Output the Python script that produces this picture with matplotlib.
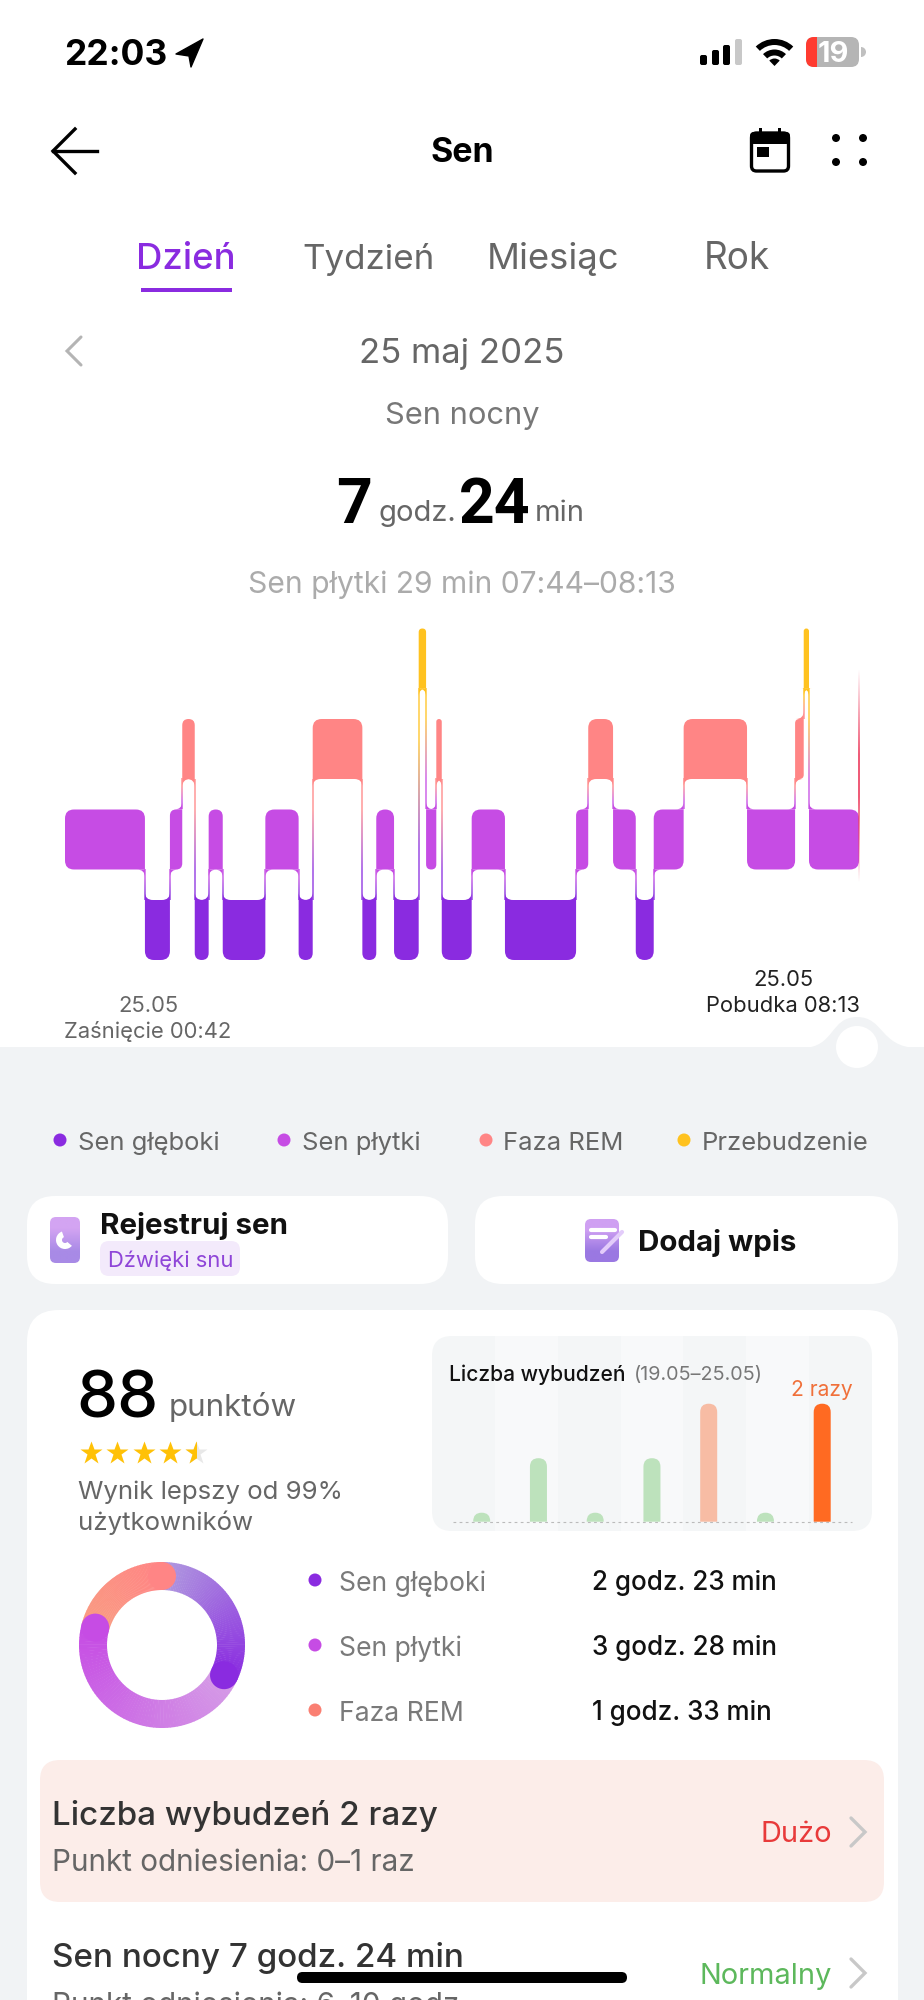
"""
Sleep screen (day view) rebuilt as one matplotlib figure.
UI chrome goes on a full-figure axes in pixels, the hypnogram and the
small wake-ups chart get their own axes with real data units.
"""

import matplotlib
matplotlib.use("Agg")

import matplotlib.pyplot as plt
import numpy as np
from matplotlib.colors import to_rgb
from matplotlib.patches import Circle, FancyBboxPatch, PathPatch, Polygon, Rectangle, Wedge
from matplotlib.path import Path

W, H = 924, 2000
plt.rcParams["font.family"] = ["Inter", "Noto Sans", "DejaVu Sans"]

# Colours
DEEP = "#8A2BE0"
LIGHT = "#C64CE4"
REM = "#FF8585"
AWAKE = "#FFC21F"
BG = "#F1F3F5"
STAGE_COLORS = [DEEP, LIGHT, REM, AWAKE]

# Hypnogram: stage level per block (0 deep, 1 light, 2 REM, 3 awake) and
# block end in minutes after falling asleep at 00:42
SEG_LEVEL = [1, 0, 1, 2, 0, 1, 0, 1, 0, 2, 0, 1, 0, 3, 1, 2, 0, 1, 0, 1, 2, 1, 0, 1, 2, 1, 2, 3, 1]
SEG_END = [45.4, 59.6, 66.6, 73.7, 81.6, 89.6, 113.8, 132.7, 140.7, 168.9, 176.8, 186.9,
           200.9, 205.1, 210.9, 214.0, 231.0, 249.9, 290.3, 297.2, 311.3, 324.2, 334.4,
           351.4, 387.4, 414.7, 419.6, 422.6, 451.0]

LEGEND_LABELS = ["Sen głęboki", "Sen płytki", "Faza REM", "Przebudzenie"]
TAB_LABELS = ["Dzień", "Tydzień", "Miesiąc", "Rok"]

# Wake-ups per day, 19.05-25.05
WAKE_COUNTS = [0, 1, 0, 1, 2, 0, 2]
WAKE_COLORS = ["#BDE2BC", "#BDE2BC", "#BDE2BC", "#BDE2BC", "#F7BCA4", "#BDE2BC", "#FF6A22"]

# Sleep totals in minutes, donut order
TOTAL_LABELS = ["Sen głęboki", "Sen płytki", "Faza REM"]
TOTAL_MINUTES = [143, 208, 93]
TOTAL_TEXT = ["2 godz. 23 min", "3 godz. 28 min", "1 godz. 33 min"]
DONUT_STOPS = [("#B09ADF", DEEP), ("#D59CE6", LIGHT), ("#F99C82", REM)]
DOT_COLORS = [DEEP, LIGHT, "#FA7F72"]

fig = plt.figure(figsize=(W / 100, H / 100), dpi=100, facecolor="white")
ui = fig.add_axes([0, 0, 1, 1])
ui.set_xlim(0, W)
ui.set_ylim(H, 0)
ui.axis("off")


def label(x, y, s, size, color="#333333", weight="normal", ha="left", zorder=5):
    """Text with y at the middle of the caps, size in pixels."""
    ui.text(x, y + 0.36 * size, s, fontsize=size * 0.72, color=color, fontweight=weight,
            ha=ha, va="baseline", zorder=zorder)


def box(x0, y0, x1, y1, r, color, zorder=2):
    p = FancyBboxPatch((x0, y0), x1 - x0, y1 - y0, boxstyle=f"round,pad=0,rounding_size={r}",
                       facecolor=color, edgecolor="none", zorder=zorder)
    ui.add_patch(p)
    return p


def gradient_box(x0, y0, x1, y1, r, top, bottom, zorder=3):
    p = box(x0, y0, x1, y1, r, "none", zorder)
    grad = np.array([[to_rgb(top)], [to_rgb(bottom)]])
    im = ui.imshow(grad, extent=(x0, x1, y1, y0), aspect="auto", interpolation="bilinear", zorder=zorder)
    im.set_clip_path(p)


def chevron(x, y, w, h, color, lw=2.2, left=False):
    d = -w if left else w
    ui.plot([x, x + d, x], [y - h / 2, y, y + h / 2], color=color, lw=lw, zorder=5,
            solid_capstyle="round", solid_joinstyle="miter")


def rounded_path(x0, x1, y0, y1, rx, ry, corners):
    """corners = (bottom-left, bottom-right, top-right, top-left) True when rounded."""
    bl, br, tr, tl = corners
    v = [(x0 + (rx if bl else 0), y0)]
    c = [Path.MOVETO]
    if br:
        v += [(x1 - rx, y0), (x1, y0), (x1, y0 + ry)]
        c += [Path.LINETO, Path.CURVE3, Path.CURVE3]
    else:
        v += [(x1, y0)]
        c += [Path.LINETO]
    if tr:
        v += [(x1, y1 - ry), (x1, y1), (x1 - rx, y1)]
        c += [Path.LINETO, Path.CURVE3, Path.CURVE3]
    else:
        v += [(x1, y1)]
        c += [Path.LINETO]
    if tl:
        v += [(x0 + rx, y1), (x0, y1), (x0, y1 - ry)]
        c += [Path.LINETO, Path.CURVE3, Path.CURVE3]
    else:
        v += [(x0, y1)]
        c += [Path.LINETO]
    if bl:
        v += [(x0, y0 + ry), (x0, y0), (x0 + rx, y0)]
        c += [Path.LINETO, Path.CURVE3, Path.CURVE3]
    else:
        v += [(x0, y0)]
        c += [Path.LINETO]
    return Path(v, c)


# ---------------------------------------------------------------------------
# Page background
# ---------------------------------------------------------------------------
ui.add_patch(Rectangle((0, 1047), W, H - 1047, facecolor=BG, edgecolor="none", zorder=0))
ui.add_patch(PathPatch(Path([(803, 1048), (835, 1047), (830, 1017), (857, 1017),
                             (884, 1017), (880, 1047), (917, 1048)],
                            [Path.MOVETO] + [Path.CURVE4] * 6),
                       facecolor=BG, edgecolor="none", zorder=0))
ui.add_patch(Circle((857, 1047), 21, facecolor="white", edgecolor="none", zorder=1))

# ---------------------------------------------------------------------------
# Status bar and header
# ---------------------------------------------------------------------------
label(64, 52, "22:03", 35.5, "black", "bold")
ui.add_patch(Polygon([(203, 39), (176, 54), (189, 56), (191, 67)], closed=True, facecolor="black", edgecolor="black", lw=1, joinstyle="round"))
for x, top, col in zip([700, 712, 723, 735], [55, 50, 45, 39], ["black", "black", "black", "#C8C8C8"]):
    box(x, top, x + 7, 65, 2, col)
for r_out, r_w in [(27, 6), (16.5, 6)]:
    ui.add_patch(Wedge((774.5, 66), r_out, 226, 314, width=r_w, facecolor="black", edgecolor="none"))
ui.add_patch(Wedge((774.5, 66), 7.5, 226, 314, facecolor="black", edgecolor="none"))
batt = box(806, 37, 859, 67, 8, "#B5B5B5")
red = Rectangle((806, 37), 11, 30, facecolor="#FF3B30", edgecolor="none", zorder=3)
ui.add_patch(red)
red.set_clip_path(batt)
ui.add_patch(Wedge((861, 52), 5, -90, 90, facecolor="#C0C0C0", edgecolor="none"))
label(833, 52, "19", 29, "white", "bold", "center")

ui.plot([97, 53], [151, 151], color="black", lw=2.4, zorder=5)
ui.plot([75, 53, 75], [129, 151, 173], color="black", lw=2.4, zorder=5, solid_joinstyle="miter")
label(462, 150, "Sen", 34, "black", "bold", "center")

# calendar and menu dots
box(751.5, 133, 788.5, 171, 5, "white", 3).set(edgecolor="black", linewidth=2.4)
box(750, 132, 790, 144, 4, "black", 4)
ui.add_patch(Rectangle((759, 128), 3, 6, facecolor="black", zorder=4))
ui.add_patch(Rectangle((778, 128), 3, 6, facecolor="black", zorder=4))
ui.add_patch(Rectangle((757, 147), 12, 10, facecolor="black", zorder=4))
for cx in [836, 863]:
    for cy in [138, 162]:
        ui.add_patch(Circle((cx, cy), 4, facecolor="black", edgecolor="none"))

# tabs
for name, cx, col, size in zip(TAB_LABELS, [186, 369, 553, 737], [DEEP, "#666666", "#666666", "#666666"], [36.5, 35, 36.5, 37]):
    label(cx, 256, name, size, col, "medium" if col == DEEP else "normal", "center")
ui.add_patch(Rectangle((141, 288), 91, 4, facecolor=DEEP, edgecolor="none"))

chevron(81, 351, 14, 28, "#B4B4B4", left=True)
label(462, 351, "25 maj 2025", 34.7, "#666666", ha="center")
label(462, 413, "Sen nocny", 30.8, "#777777", ha="center")

# "7 godz. 24 min"
big = ["Liberation Sans Narrow", "Roboto", "DejaVu Sans"]
ui.text(354, 523, "7", fontsize=45, fontweight="bold", family=big, color="black", ha="center", va="baseline")
ui.text(378, 521, "godz.", fontsize=21, color="#666666", ha="left", va="baseline")
ui.text(495, 523, "24", fontsize=45, fontweight="bold", family=big, color="black", ha="center", va="baseline")
ui.text(535, 521, "min", fontsize=21, color="#666666", ha="left", va="baseline")
label(462, 582, "Sen płytki 29 min 07:44–08:13", 30, "#ABABAB", ha="center")

# ---------------------------------------------------------------------------
# Hypnogram
# ---------------------------------------------------------------------------
PX_X0, PX_X1 = 65, 859
PX_TOP, PX_BOTTOM = 620, 970
X_SCALE = (PX_X1 - PX_X0) / SEG_END[-1]     # px per minute
Y_SCALE = 90.5                              # px per level
BAND = 30 / Y_SCALE                         # half band height in levels

chart = fig.add_axes([PX_X0 / W, 1 - PX_BOTTOM / H, (PX_X1 - PX_X0) / W, (PX_BOTTOM - PX_TOP) / H])
chart.patch.set_alpha(0)
chart.axis("off")
xlim = (0, SEG_END[-1])
ylim = ((930 - PX_BOTTOM) / Y_SCALE, (930 - PX_TOP) / Y_SCALE)

FILLET = 8  # px
starts = [0] + SEG_END[:-1]
for i, (lev, x0, x1) in enumerate(zip(SEG_LEVEL, starts, SEG_END)):
    prev_lev = SEG_LEVEL[i - 1] if i > 0 else None
    next_lev = SEG_LEVEL[i + 1] if i + 1 < len(SEG_LEVEL) else None
    width_px = (x1 - x0) * X_SCALE
    r = min(9, width_px / 2)
    # the corner facing a junction stays square, the other one is rounded
    bl = prev_lev is None or prev_lev > lev
    tl = prev_lev is None or prev_lev < lev
    br = next_lev is None or next_lev > lev
    tr = next_lev is None or next_lev < lev
    path = rounded_path(x0, x1, lev - BAND, lev + BAND, r / X_SCALE, r / Y_SCALE, (bl, br, tr, tl))
    chart.add_patch(PathPatch(path, facecolor=STAGE_COLORS[lev], edgecolor="none", zorder=3, clip_on=False))

    if next_lev is None:
        continue
    # junction to the next block: thin gradient line plus two small fillets
    hi, lo = max(lev, next_lev), min(lev, next_lev)
    y_top, y_bot = hi - BAND, lo + BAND
    c_top = np.array(to_rgb(STAGE_COLORS[hi]))
    c_bot = np.array(to_rgb(STAGE_COLORS[lo]))
    grad = np.array([[0.65 * c_top + 0.35], [0.65 * c_bot + 0.35]])
    half = 1.0 / X_SCALE
    chart.imshow(grad, extent=(x1 - half, x1 + half, y_bot, y_top), aspect="auto",
                 interpolation="bilinear", zorder=2, origin="upper")
    rx, ry = FILLET / X_SCALE, FILLET / Y_SCALE
    side_hi = -1 if lev == hi else 1
    side_lo = -1 if lev == lo else 1
    for yc, side, col, dy in [(y_top, side_hi, STAGE_COLORS[hi], -ry), (y_bot, side_lo, STAGE_COLORS[lo], ry)]:
        fillet = Path([(x1, yc), (x1 + side * rx, yc), (x1, yc), (x1, yc + dy), (x1, yc)],
                      [Path.MOVETO, Path.LINETO, Path.CURVE3, Path.CURVE3, Path.CLOSEPOLY])
        chart.add_patch(PathPatch(fillet, facecolor=col, edgecolor="none", zorder=3, clip_on=False))

# fading red cursor at the wake-up time
cursor = np.array([[[0.93, 0.25, 0.38, a]] for a in (0.0, 0.45, 0.85, 0.85, 0.45, 0.0)])
chart.imshow(cursor, extent=(SEG_END[-1] - 1.0 / X_SCALE, SEG_END[-1] + 0.5 / X_SCALE, (930 - 903) / Y_SCALE, (930 - 648) / Y_SCALE),
             aspect="auto", interpolation="bilinear", zorder=4, origin="lower", clip_on=False)
chart.set_xlim(xlim)
chart.set_ylim(ylim)

label(148, 1004, "25.05", 22, "#666666", ha="center")
label(148, 1030, "Zaśnięcie 00:42", 22, "#666666", ha="center")
label(783, 978, "25.05", 22, "#222222", ha="center")
label(783, 1004, "Pobudka 08:13", 22, "#222222", ha="center")

# legend under the chart
for name, col, dx, tx in zip(LEGEND_LABELS, STAGE_COLORS, [60, 284, 486, 684], [78, 302, 503, 702]):
    ui.add_patch(Circle((dx, 1140), 6.5, facecolor=col, edgecolor="none", zorder=3))
    label(tx, 1141, name, 25.6, "#666666")

# ---------------------------------------------------------------------------
# Action buttons
# ---------------------------------------------------------------------------
box(27, 1196, 448, 1284, 28, "white")
box(475, 1196, 898, 1284, 28, "white")

gradient_box(50, 1217, 80, 1263, 6, "#D3A4F2", "#A88AE6")
ui.add_patch(Wedge((65, 1240), 9, 40, 250, width=6, facecolor="white", edgecolor="none", zorder=4))
label(100, 1223, "Rejestruj sen", 29.6, "#111111", "bold")
box(100, 1241, 240, 1276, 9, "#F3EAFB")
label(108, 1259, "Dźwięki snu", 22, "#8F45D8")

gradient_box(585, 1219, 619, 1262, 6, "#CFA0F2", "#9A78E2")
ui.plot([591, 615], [1230, 1230], color="white", lw=3, solid_capstyle="round", zorder=5)
ui.plot([591, 606], [1237, 1237], color="white", lw=3, solid_capstyle="round", zorder=5)
ui.plot([622, 602], [1232, 1252], color="#E3CCFA", lw=3, solid_capstyle="round", zorder=5)
label(638, 1240, "Dodaj wpis", 29.5, "#111111", "bold")

# ---------------------------------------------------------------------------
# Score card
# ---------------------------------------------------------------------------
box(27, 1310, 898, 2100, 32, "white", 1)

ui.text(76, 1417, "88", fontsize=47, color="black", fontweight="medium", ha="left", va="baseline", zorder=5)
ui.text(169, 1416, "punktów", fontsize=22.6, color="#666666", ha="left", va="baseline", zorder=5)

star_x = [91, 117, 144, 170, 196]
for i, sx in enumerate(star_x):
    if i == 4:
        ui.plot([sx], [1453], marker="*", ms=17, color="#E8E8E8", mec="none", zorder=4)
        half = ui.plot([sx], [1453], marker="*", ms=17, color="#FFC107", mec="none", zorder=5)[0]
        clip = Rectangle((sx - 20, 1430), 20, 46, transform=ui.transData)
        half.set_clip_path(clip)
    else:
        ui.plot([sx], [1453], marker="*", ms=17, color="#FFC107", mec="none", zorder=4)

label(78, 1490, "Wynik lepszy od 99%", 25.8, "#666666")
label(78, 1521, "użytkowników", 25.8, "#666666")

# Wake-ups panel
panel = box(432, 1336, 872, 1531, 20, "#F4F6F7")
col_w = 440 / 7
for i in (1, 3, 5):
    stripe = Rectangle((432 + i * col_w, 1336), col_w, 195, facecolor="#F8F9FA", edgecolor="none", zorder=2)
    ui.add_patch(stripe)
    stripe.set_clip_path(panel)
label(449, 1373, "Liczba wybudzeń", 21, "#111111", "medium")
label(634, 1373, "(19.05–25.05)", 19.8, "#777777")
label(822, 1388, "2 razy", 21, "#F0703A", ha="center")

BAR_STEP = 56.75     # px per day
BAR_UNIT = 54.5      # px per wake-up
BAR_BASE = -9 / BAR_UNIT
wake = fig.add_axes([432 / W, 1 - 1531 / H, 440 / W, 195 / H])
wake.patch.set_alpha(0)
wake.axis("off")
wake.set_xlim((432 - 481.7) / BAR_STEP, (872 - 481.7) / BAR_STEP)
wake.set_ylim(BAR_BASE - 9.3 / BAR_UNIT, BAR_BASE + 185.7 / BAR_UNIT)
wake.plot([(453 - 481.7) / BAR_STEP, (852 - 481.7) / BAR_STEP], [BAR_BASE, BAR_BASE],
          color="#BBBBBB", lw=0.8, ls=(0, (2.5, 3)), zorder=1)
for i, (v, col) in enumerate(zip(WAKE_COUNTS, WAKE_COLORS)):
    hw = 8.5 / BAR_STEP
    rx = hw
    ry = min(8.5, (v - BAR_BASE) * BAR_UNIT) / BAR_UNIT
    wake.add_patch(PathPatch(rounded_path(i - hw, i + hw, BAR_BASE, v, rx * 0.999, ry, (False, False, True, True)),
                             facecolor=col, edgecolor="none", zorder=2))

# Donut, sweeps clockwise from twelve o'clock
cx, cy, r_out, r_w = 162, 1645, 83, 28
sweep = np.cumsum([0] + [360 * m / sum(TOTAL_MINUTES) for m in TOTAL_MINUTES])
for i, (c0, c1) in enumerate(DONUT_STOPS):
    a0, a1 = sweep[i], sweep[i + 1]
    c0, c1 = np.array(to_rgb(c0)), np.array(to_rgb(c1))
    steps = 70
    for k in range(steps):
        t = k / (steps - 1)
        th0 = a0 + (a1 - a0) * k / steps - 90
        th1 = a0 + (a1 - a0) * (k + 1) / steps - 90 + 0.4
        ui.add_patch(Wedge((cx, cy), r_out, th0, th1, width=r_w, facecolor=tuple(c0 + (c1 - c0) * t),
                           edgecolor="none", zorder=3))
for i, (c0, c1) in enumerate(DONUT_STOPS):
    a = np.deg2rad(sweep[i + 1] - 90)
    rc = r_out - r_w / 2
    ui.add_patch(Circle((cx + rc * np.cos(a), cy + rc * np.sin(a)), r_w / 2, facecolor=c1, edgecolor="none", zorder=4))

for name, col, val, y in zip(TOTAL_LABELS, DOT_COLORS, TOTAL_TEXT, [1580, 1645, 1710]):
    ui.add_patch(Circle((315, y), 6.5, facecolor=col, edgecolor="none", zorder=4))
    label(339, y + 1, name, 26.6, "#7A7A7A")
    label(592, y + 1, val, 26, "#111111", "medium")

# ---------------------------------------------------------------------------
# Result rows, the second one runs off the screen
# ---------------------------------------------------------------------------
box(40, 1760, 884, 1902, 20, "#FCEDE9")
label(52, 1813, "Liczba wybudzeń 2 razy", 33.2, "#333333", "medium")
label(52, 1860, "Punkt odniesienia: 0–1 raz", 29.7, "#666666")
label(832, 1832, "Dużo", 29, "#E83A3A", ha="right")
chevron(851, 1832, 14, 28, "#C8C8C8", lw=2.4)

label(52, 1955, "Sen nocny 7 godz. 24 min", 33.2, "#333333", "medium")
label(52, 2003, "Punkt odniesienia: 6–10 godz.", 29.7, "#666666")
label(832, 1974, "Normalny", 29, "#5DB85C", ha="right")
chevron(851, 1973, 14, 28, "#C8C8C8", lw=2.4)

# home indicator
box(297, 1972, 627, 1983, 5.5, "black", 6)

ui.set_xlim(0, W)
ui.set_ylim(H, 0)
fig.savefig("out.png", dpi=100)
